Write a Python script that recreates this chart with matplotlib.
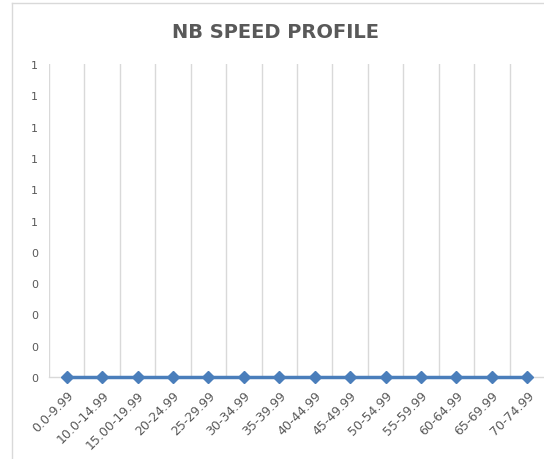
import matplotlib.pyplot as plt
from matplotlib.lines import Line2D

plt.rcParams['font.family'] = ['DejaVu Sans']

# speed bins and counts (all zero in the source sheet)
speed_bins = ['0.0-9.99', '10.0-14.99', '15.00-19.99', '20-24.99', '25-29.99',
              '30-34.99', '35-39.99', '40-44.99', '45-49.99', '50-54.99',
              '55-59.99', '60-64.99', '65-69.99', '70-74.99']
counts = [0, 0, 0, 0, 0, 0, 0, 0, 0, 0, 0, 0, 0, 0]
y_ticks = [0, 0.1, 0.2, 0.3, 0.4, 0.5, 0.6, 0.7, 0.8, 0.9, 1.0]
y_labels = ['0', '0', '0', '0', '0', '1', '1', '1', '1', '1', '1']

grey = '#d9d9d9'
txt = '#595959'
blue = '#4a7ebb'

fig = plt.figure(figsize=(5.44, 4.6), dpi=100)

# chart area border: only left and top edges are inside the crop
x0, y0 = 12 / 544, 1 - 4 / 460
fig.add_artist(Line2D([x0, x0], [0, y0], transform=fig.transFigure,
                      color=grey, linewidth=1))
fig.add_artist(Line2D([x0, 1], [y0, y0], transform=fig.transFigure,
                      color=grey, linewidth=1))

ax = fig.add_axes([49 / 544, 82 / 460, 496 / 544, 313 / 460])
x = list(range(len(speed_bins)))
ax.plot(x, counts, color=blue, linewidth=2.5, marker='D', markersize=6,
        markerfacecolor=blue, markeredgecolor=blue, zorder=3, clip_on=False)

ax.set_xlim(-0.5, len(speed_bins) - 0.5)
ax.set_ylim(0, 1)

# category boundary gridlines (the last one falls outside the crop)
for k in range(len(speed_bins)):
    ax.axvline(k - 0.5, color=grey, linewidth=1, zorder=1)

for s in ['left', 'right', 'top']:
    ax.spines[s].set_visible(False)
ax.spines['bottom'].set_color(grey)
ax.spines['bottom'].set_linewidth(1)

ax.set_yticks(y_ticks)
ax.set_yticklabels(y_labels)
ax.set_xticks(x)
ax.set_xticklabels(speed_bins, rotation=45, ha='right', va='top',
                   rotation_mode='anchor')
ax.tick_params(axis='both', length=0, colors=txt)
ax.tick_params(axis='y', pad=8, labelsize=8)
ax.tick_params(axis='x', pad=8, labelsize=9)

fig.text(275 / 544, 1 - 32 / 460, 'NB SPEED PROFILE', ha='center', va='center',
         fontsize=14, fontweight='bold', color=txt)

plt.savefig('out.png', dpi=100)
